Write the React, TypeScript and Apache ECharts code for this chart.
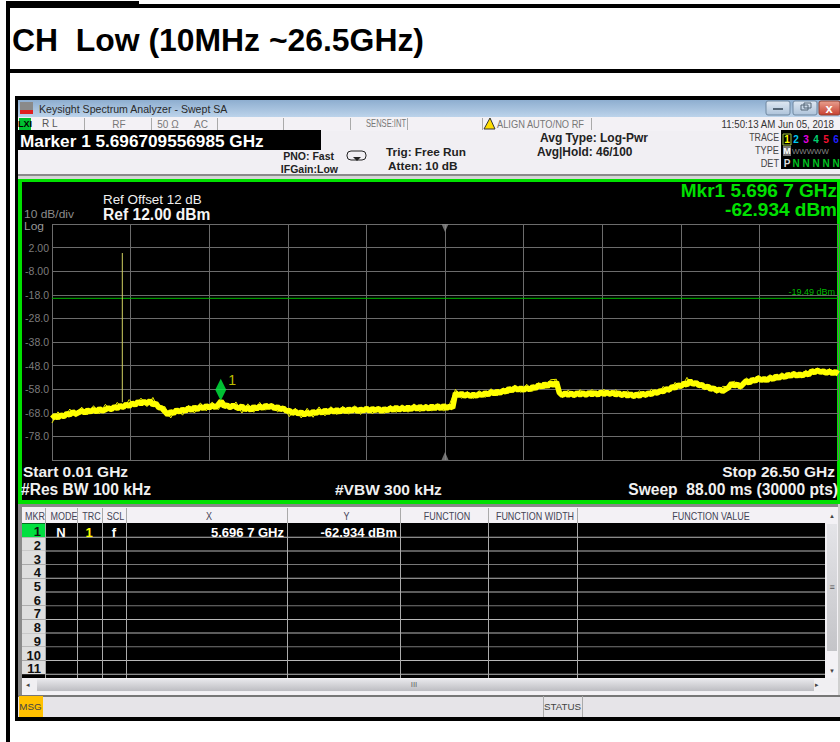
import React, { useEffect, useRef } from "react";
import * as echarts from "echarts";

const titleText = "CH  Low (10MHz ~26.5GHz)";
const startGHz = 0.01;
const stopGHz = 26.5;
const traceStepGHz = 0.1;
const fringeStepGHz = 0.2;
const xGridGHz = [0.01, 2.659, 5.308, 7.957, 10.606, 13.255, 15.904, 18.553, 21.202, 23.851, 26.5];
const yGridDbm = [12, 2, -8, -18, -28, -38, -48, -58, -68, -78, -88];
const yLabelDbm = [2, -8, -18, -28, -38, -48, -58, -68, -78];
const yLabelText = ["2.00", "-8.00", "-18.0", "-28.0", "-38.0", "-48.0", "-58.0", "-68.0", "-78.0"];
const traceDbm = [
  -70.4, -69.2, -70.1, -68.9, -69.6, -68.3, -68.9, -67.6, -68.5, -67.9,
  -67.1, -68.0, -66.9, -67.6, -66.6, -67.5, -66.3, -67.2, -66.7, -65.9,
  -66.6, -65.4, -66.1, -65.0, -65.7, -64.4, -65.2, -63.9, -64.7, -63.3,
  -64.2, -63.2, -64.1, -62.9, -64.6, -64.0, -65.8, -66.0, -67.4, -68.8,
  -67.6, -68.2, -66.8, -67.7, -66.5, -67.3, -65.9, -66.9, -65.6, -66.6,
  -65.3, -66.2, -65.0, -65.9, -64.9, -65.7, -64.6, -63.0, -65.3, -64.7,
  -65.8, -64.8, -65.6, -66.2, -65.1, -66.7, -65.7, -66.9, -65.4, -66.3,
  -65.2, -66.1, -64.9, -65.7, -65.0, -66.2, -65.5, -66.6, -66.0, -67.3,
  -67.0, -68.2, -67.4, -68.5, -67.7, -68.9, -67.9, -68.6, -67.5, -68.3,
  -67.2, -68.1, -66.9, -67.9, -66.8, -67.6, -66.7, -67.7, -66.5, -67.5,
  -66.4, -67.3, -66.2, -67.4, -66.5, -67.2, -66.1, -67.3, -66.3, -67.0,
  -66.2, -67.4, -66.3, -67.1, -66.0, -66.9, -65.7, -66.8, -65.8, -66.7,
  -65.6, -66.6, -65.4, -66.5, -65.3, -66.4, -65.5, -66.3, -65.2, -66.2,
  -65.1, -66.2, -65.0, -66.1, -65.2, -65.9, -59.6, -60.7, -59.8, -60.9,
  -60.1, -61.0, -60.2, -60.9, -59.9, -60.6, -59.5, -60.3, -59.1, -59.9,
  -58.9, -59.7, -58.6, -59.2, -57.7, -58.6, -57.4, -58.3, -57.5, -58.4,
  -57.4, -58.2, -57.0, -57.6, -56.2, -57.1, -55.8, -56.8, -55.3, -56.3,
  -55.0, -59.5, -60.6, -59.6, -60.5, -59.7, -60.7, -59.5, -60.4, -59.6,
  -60.5, -59.4, -60.3, -59.5, -60.4, -59.2, -60.2, -59.3, -60.1, -59.4,
  -60.4, -59.6, -60.6, -59.8, -60.9, -60.0, -61.1, -60.1, -60.9, -59.8,
  -60.5, -59.6, -60.2, -59.2, -59.6, -58.7, -59.0, -57.9, -58.3, -56.9,
  -57.5, -56.2, -56.8, -55.5, -56.2, -54.4, -55.9, -55.2, -56.4, -56.1,
  -57.2, -56.8, -58.0, -57.5, -58.6, -58.0, -58.9, -58.1, -57.3, -55.6,
  -56.6, -55.9, -57.0, -55.7, -54.4, -55.4, -53.9, -54.6, -53.2, -54.2,
  -53.5, -54.3, -53.0, -53.8, -52.5, -53.3, -52.3, -53.0, -51.7, -52.5,
  -51.4, -52.4, -51.6, -52.3, -51.2, -51.9, -50.2, -50.9, -50.0, -50.8,
  -50.3, -51.2, -50.4, -51.3, -50.6, -51.5,
];
const traceFringeDbm = [
  -72.3, -67.6, -70.6, -66.4, -69.8,
  -65.6, -68.9, -65.0, -68.4, -64.4,
  -67.6, -63.6, -66.6, -62.4, -65.2,
  -61.8, -65.4, -61.5, -66.6, -65.3,
  -70.2, -66.0, -69.0, -64.8, -68.1,
  -63.8, -67.2, -63.4, -66.7, -63.2,
  -66.8, -63.4, -68.1, -64.2, -67.8,
  -63.6, -66.9, -63.9, -67.6, -65.4,
  -69.6, -66.0, -70.2, -66.1, -69.9,
  -65.5, -69.3, -65.4, -68.8, -65.2,
  -68.6, -65.0, -68.7, -65.1, -68.5,
  -65.2, -68.3, -64.8, -67.9, -64.6,
  -67.8, -64.2, -67.6, -64.3, -67.3,
  -64.1, -67.3, -64.3, -58.1, -61.9,
  -58.9, -62.0, -58.6, -61.5, -57.8,
  -60.9, -57.4, -59.8, -56.2, -59.4,
  -55.9, -58.9, -55.2, -57.9, -54.0,
  -53.8, -61.6, -58.3, -61.7, -58.2,
  -61.4, -58.1, -61.3, -58.0, -61.1,
  -58.2, -61.7, -58.6, -62.1, -58.6,
  -61.6, -58.0, -60.4, -56.8, -59.4,
  -55.1, -57.7, -53.0, -56.6, -54.8,
  -58.2, -56.3, -59.8, -56.8, -56.9,
  -54.6, -58.1, -53.2, -55.6, -52.1,
  -55.2, -51.8, -54.4, -51.0, -53.6,
  -50.3, -53.3, -50.0, -51.9, -48.9,
  -51.9, -49.2, -52.4,
];
const spikeGHz = 2.38;
const spikeDbm = [-63.5, -0.3];
const displayLineDbm = -19.49;
const markerGHz = 5.6967;
const markerDbm = -62.934;
const centerGHz = 13.255;
const tableColumns = ["MKR", "MODE", "TRC", "SCL", "X", "Y", "FUNCTION", "FUNCTION WIDTH", "FUNCTION VALUE"];
const tableRows = ["1", "2", "3", "4", "5", "6", "7", "8", "9", "10", "11"];
const traceNumbers = ["1", "2", "3", "4", "5", "6"];
const traceNumberColors = ["#ffff00", "#00c8f0", "#e000e0", "#00d070", "#f01030", "#2020ff"];

const FONT = '"Liberation Sans", Arial, sans-serif';

type Opt = { align?: string; bold?: boolean; font?: string; sx?: number };
const txt = (x: number, y: number, text: string, size: number, fill: string, o: Opt = {}) => ({
  type: "text",
  x,
  y,
  scaleX: o.sx || 1,
  silent: true,
  style: {
    text,
    fill,
    font: `${o.bold ? "bold " : ""}${size}px ${o.font || FONT}`,
    textAlign: o.align || "left",
    textVerticalAlign: "middle",
  },
});
const rect = (x: number, y: number, w: number, h: number, fill: any, extra: any = {}) => ({
  type: "rect",
  silent: true,
  shape: { x, y, width: w, height: h, ...(extra.r ? { r: extra.r } : {}) },
  style: { fill, ...(extra.stroke ? { stroke: extra.stroke, lineWidth: extra.lineWidth || 1 } : {}) },
});
const vgrad = (a: string, b: string) => ({
  type: "linear", x: 0, y: 0, x2: 0, y2: 1,
  colorStops: [{ offset: 0, color: a }, { offset: 1, color: b }],
});

function buildGraphics() {
  const g: any[] = [];
  // outer document frame
  g.push(rect(0, 0, 840, 742, "#ffffff"));
  g.push(rect(6, 1, 133, 7, "#000000"));
  g.push(rect(6, 4, 834, 4, "#000000"));
  g.push(rect(6, 4, 4, 738, "#000000"));
  g.push(rect(6, 69, 834, 4, "#000000"));
  g.push(txt(12, 40, titleText, 31.9, "#000000", { bold: true }));

  // analyzer window
  g.push(rect(15, 96, 825, 625, "#000000"));
  g.push(rect(18, 100, 822, 17, vgrad("#8eaed0", "#bcd3ea")));
  g.push(rect(20, 102, 13, 8, "#8a8a8a"));
  g.push(rect(20, 110, 13, 4, "#e02020"));
  g.push(txt(39, 108.5, "Keysight Spectrum Analyzer - Swept SA", 10.6, "#2a2a2a"));
  g.push(rect(766, 101, 24, 14, vgrad("#dfe8f2", "#aec3da"), { r: 2, stroke: "#6f87a0" }));
  g.push(rect(773, 108, 10, 2, "#556677"));
  g.push(rect(793, 101, 24, 14, vgrad("#dfe8f2", "#aec3da"), { r: 2, stroke: "#6f87a0" }));
  g.push(rect(801, 105, 7, 5, "none", { stroke: "#556677" }));
  g.push(rect(804, 103, 7, 5, "none", { stroke: "#556677" }));
  g.push(rect(819, 101, 21, 14, vgrad("#e8a090", "#c84030"), { r: 2, stroke: "#904030" }));
  g.push(txt(829, 108, "x", 13, "#ffffff", { bold: true, align: "center" }));

  // status row
  g.push(rect(18, 117, 822, 14, "#f3f1f5"));
  g.push(rect(19, 118, 12, 12, "#00c030"));
  g.push(txt(25, 124, "LXI", 9, "#000000", { bold: true, align: "center" }));
  g.push(txt(42, 123.5, "R L", 10, "#555555"));
  g.push(txt(119, 124, "RF", 10, "#777777", { align: "center" }));
  g.push(txt(168, 124, "50 Ω", 10, "#777777", { align: "center" }));
  g.push(txt(201, 124, "AC", 10, "#777777", { align: "center" }));
  g.push(txt(366, 124, "SENSE:INT", 10, "#777777", { sx: 0.76 }));
  [84, 151, 217, 283, 350, 407, 482, 591].forEach((x) => g.push(rect(x, 118, 1, 12, "#aaaaaa")));
  g.push({
    type: "polygon", silent: true,
    shape: { points: [[484, 129], [490, 118], [495, 129]] },
    style: { fill: "#ffdd00", stroke: "#333333", lineWidth: 1 },
  });
  g.push(txt(497, 124, "ALIGN AUTO/NO RF", 10, "#777777", { sx: 0.93 }));
  g.push(txt(834, 124, "11:50:13 AM Jun 05, 2018", 10, "#333333", { align: "right", sx: 0.97 }));

  // settings band
  g.push(rect(18, 131, 822, 44, "#f1eff3"));
  g.push(rect(18, 130, 303, 20, "#000000"));
  g.push(txt(20, 140.5, "Marker 1 5.696709556985 GHz", 17.2, "#ffffff", { bold: true }));
  g.push(txt(334, 156, "PNO: Fast", 10.5, "#222222", { bold: true, align: "right" }));
  g.push(txt(338, 168.5, "IFGain:Low", 10.5, "#222222", { bold: true, align: "right" }));
  g.push(rect(347, 151, 19, 9, "none", { r: 4, stroke: "#222222" }));
  g.push({
    type: "polygon", silent: true,
    shape: { points: [[353, 157], [361, 157], [357, 161]] },
    style: { fill: "#222222" },
  });
  g.push(txt(386, 152, "Trig: Free Run", 11.8, "#222222", { bold: true }));
  g.push(txt(388, 166, "Atten: 10 dB", 11.8, "#222222", { bold: true }));
  g.push(txt(540, 138, "Avg Type: Log-Pwr", 12, "#222222", { bold: true }));
  g.push(txt(537, 152, "Avg|Hold: 46/100", 11.9, "#222222", { bold: true }));
  g.push(txt(779, 137, "TRACE", 10, "#444444", { align: "right", sx: 0.88 }));
  g.push(txt(779, 150, "TYPE", 10, "#444444", { align: "right", sx: 0.92 }));
  g.push(txt(779, 163, "DET", 10, "#444444", { align: "right", sx: 0.92 }));
  g.push(rect(781, 130, 59, 39, "#000000"));
  g.push(rect(783, 134, 8, 11, "#000000", { stroke: "#a0c040" }));
  traceNumbers.forEach((n, i) =>
    g.push(txt(787 + (i === 0 ? 0 : i * 10 - 1), 139.5, n, 10, traceNumberColors[i], { bold: true, align: "center" })),
  );
  g.push(rect(783, 146, 8, 10, "#777777"));
  g.push(txt(787, 151, "M", 9, "#ffffff", { bold: true, align: "center" }));
  g.push(txt(792, 151, "WWWWW", 7.8, "#888888"));
  g.push(txt(787, 163, "P", 10, "#dddddd", { bold: true, align: "center" }));
  ["N", "N", "N", "N", "N"].forEach((n, i) =>
    g.push(txt(796 + i * 10, 163, n, 10, "#00c020", { bold: true, align: "center" })),
  );
  g.push(rect(18, 174, 822, 2, "#8a8a8a"));
  g.push(rect(18, 176, 822, 3, "#d5d5d5"));

  // plot panel
  g.push(rect(18, 179, 822, 325, "#00e000"));
  g.push(rect(22, 182, 815, 318, "#000000"));
  g.push(txt(103, 199, "Ref Offset 12 dB", 13.4, "#f0f0f0"));
  g.push(txt(103, 214, "Ref 12.00 dBm", 15.6, "#f5f5f5", { bold: true }));
  g.push(txt(24, 214.5, "10 dB/div", 11, "#8c8c8c", { sx: 1.09 }));
  g.push(txt(24, 226.5, "Log", 11, "#9a9a9a", { sx: 1.09 }));
  g.push(txt(837, 191, "Mkr1 5.696 7 GHz", 17.6, "#00e000", { bold: true, align: "right", sx: 1.08 }));
  g.push(txt(837, 209.5, "-62.934 dBm", 17.6, "#00e000", { bold: true, align: "right", sx: 1.08 }));
  g.push(txt(835, 291.5, "-19.49 dBm", 9, "#00b800", { align: "right" }));
  g.push(txt(23, 471, "Start 0.01 GHz", 15.5, "#f0f0f0", { bold: true }));
  g.push(txt(835, 471, "Stop 26.50 GHz", 15.5, "#f0f0f0", { bold: true, align: "right" }));
  g.push(txt(21, 489, "#Res BW 100 kHz", 15.6, "#f0f0f0", { bold: true }));
  g.push(txt(335, 489, "#VBW 300 kHz", 15.5, "#f0f0f0", { bold: true }));
  g.push(txt(838, 489, "Sweep  88.00 ms (30000 pts)", 15.6, "#f0f0f0", { bold: true, align: "right" }));

  // marker table
  g.push(rect(18, 504, 822, 191, "#f3f1f5"));
  g.push(rect(18, 504, 822, 3, "#888888"));
  g.push(rect(18, 504, 4, 191, "#8a8a8a"));
  g.push(rect(838, 504, 2, 191, "#d0d0d0"));
  g.push(rect(22, 523, 803, 155, "#000000"));
  const colCenters = [35, 64, 91.5, 115.5, 209, 346.5, 447, 535, 711];
  tableColumns.forEach((c, i) =>
    g.push(txt(colCenters[i], 516, c, 10.2, "#444455", { align: "center", sx: 0.88 })),
  );
  const rowH = 13.7;
  tableRows.forEach((r, i) => {
    const y = 523.5 + i * rowH;
    g.push(rect(22, y, 23, rowH, i === 0 ? "#00e040" : "#dedede"));
    g.push(txt(41, y + 8.2, r, 13, "#101010", { bold: true, align: "right" }));
    g.push(rect(45, y + rowH - 0.5, 780, 1, i % 3 === 2 ? "#777777" : "#b8b8b8"));
  });
  [45, 77, 102, 126, 287, 400, 488, 577].forEach((x) => {
    g.push(rect(x, 508, 1, 170, "#aaaaaa"));
  });
  g.push(txt(61, 532, "N", 13, "#ffffff", { bold: true, align: "center" }));
  g.push(txt(89, 532, "1", 13, "#ffff00", { bold: true, align: "center" }));
  g.push(txt(114, 532, "f", 13, "#ffffff", { bold: true, align: "center" }));
  g.push(txt(284, 532, "5.696 7 GHz", 13, "#ffffff", { bold: true, align: "right" }));
  g.push(txt(397, 532, "-62.934 dBm", 13, "#ffffff", { bold: true, align: "right" }));
  // scrollbars
  g.push(rect(827, 524, 10, 127, vgrad("#e4e4e8", "#c4c4c8")));
  g.push(txt(832, 587, "≡", 9, "#555555", { align: "center" }));
  g.push(txt(832, 516, "▲", 6, "#444444", { align: "center" }));
  g.push(txt(832, 671, "▼", 6, "#444444", { align: "center" }));
  g.push(rect(22, 678, 816, 14, "#f0eff2"));
  g.push(rect(37, 679, 777, 12, vgrad("#e8e8ec", "#bdbdc2")));
  g.push(txt(414, 684, "III", 8, "#666666", { align: "center" }));
  g.push(txt(28, 684, "◂", 7, "#444444", { align: "center" }));
  g.push(txt(817 + 0, 684, "▸", 7, "#444444", { align: "center" }));

  // bottom message bar
  g.push(rect(18, 695, 822, 2, "#777777"));
  g.push(rect(18, 697, 822, 20, "#e6e4e8"));
  g.push(rect(19, 696, 24, 21, "#ffc000"));
  g.push(txt(30.5, 706, "MSG", 9.8, "#444444", { align: "center" }));
  g.push(rect(543, 696, 1, 21, "#aaaaaa"));
  g.push(rect(582, 696, 1, 21, "#aaaaaa"));
  g.push(txt(562.5, 706, "STATUS", 9.8, "#444444", { align: "center" }));
  return g;
}

export default function App() {
  const ref = useRef<HTMLDivElement>(null);
  useEffect(() => {
    document.body.style.margin = "0";
    const chart = echarts.init(ref.current!, undefined, { renderer: "svg" });
    const traceData = traceDbm.map((v, i) => [startGHz + i * traceStepGHz, v]);
    const fringeData = traceFringeDbm.map((v, i) => [startGHz + i * fringeStepGHz, v]);
    chart.setOption({
      animation: false,
      backgroundColor: "#ffffff",
      graphic: { z: -10, elements: buildGraphics() },
      grid: {
        left: 52,
        top: 224,
        width: 786,
        height: 236,
        show: true,
        backgroundColor: "transparent",
        borderColor: "#7c7c7c",
        borderWidth: 2,
      },
      xAxis: {
        type: "value",
        min: startGHz,
        max: stopGHz,
        axisLine: { show: false },
        axisTick: { show: false, customValues: xGridGHz },
        axisLabel: { show: false },
        splitLine: { show: true, lineStyle: { color: "#6c6c6c", width: 1 } },
      },
      yAxis: {
        type: "value",
        min: -88,
        max: 12,
        axisLine: { show: false },
        axisTick: { show: false, customValues: yGridDbm },
        axisLabel: {
          show: true,
          customValues: yLabelDbm,
          color: "#7c7c7c",
          fontSize: 10.5,
          fontFamily: FONT,
          margin: 3,
          formatter: (v: number) => yLabelText[yLabelDbm.indexOf(v)] ?? "",
        },
        splitLine: { show: true, lineStyle: { color: "#6c6c6c", width: 1 } },
      },
      series: [
        {
          type: "line",
          name: "Display line",
          data: [[startGHz, displayLineDbm], [stopGHz, displayLineDbm]],
          symbol: "none",
          silent: true,
          lineStyle: { color: "#00b800", width: 1 },
        },
        {
          type: "line",
          name: "Signal",
          data: spikeDbm.map((v) => [spikeGHz, v]),
          symbol: "none",
          silent: true,
          lineStyle: { color: "#d0d060", width: 1 },
        },
        {
          type: "line",
          name: "Trace 1 fringe",
          data: fringeData,
          symbol: "none",
          silent: true,
          clip: true,
          lineStyle: { color: "#f0f000", width: 1 },
        },
        {
          type: "line",
          name: "Trace 1",
          data: traceData,
          symbol: "none",
          silent: true,
          clip: true,
          lineStyle: { color: "#ffff00", width: 5.6, join: "bevel" },
        },
        {
          type: "scatter",
          name: "Marker 1",
          data: [[markerGHz, markerDbm]],
          symbol: "diamond",
          symbolSize: [11, 22],
          symbolOffset: [0, -11],
          silent: true,
          z: 5,
          itemStyle: { color: "#00f040" },
          label: {
            show: true,
            formatter: "1",
            position: [13, -6],
            color: "#f0f000",
            fontSize: 14,
            fontFamily: FONT,
          },
        },
        {
          type: "scatter",
          name: "Center top",
          data: [[centerGHz, 12]],
          symbol: "triangle",
          symbolRotate: 180,
          symbolSize: [7, 8],
          symbolOffset: [0, 4],
          silent: true,
          itemStyle: { color: "#8a8a8a" },
        },
        {
          type: "scatter",
          name: "Center bottom",
          data: [[centerGHz, -88]],
          symbol: "triangle",
          symbolSize: [7, 8],
          symbolOffset: [0, -4],
          silent: true,
          itemStyle: { color: "#8a8a8a" },
        },
      ],
    });
    return () => chart.dispose();
  }, []);
  return <div ref={ref} style={{ position: "absolute", left: 0, top: 0, width: 840, height: 742 }} />;
}
